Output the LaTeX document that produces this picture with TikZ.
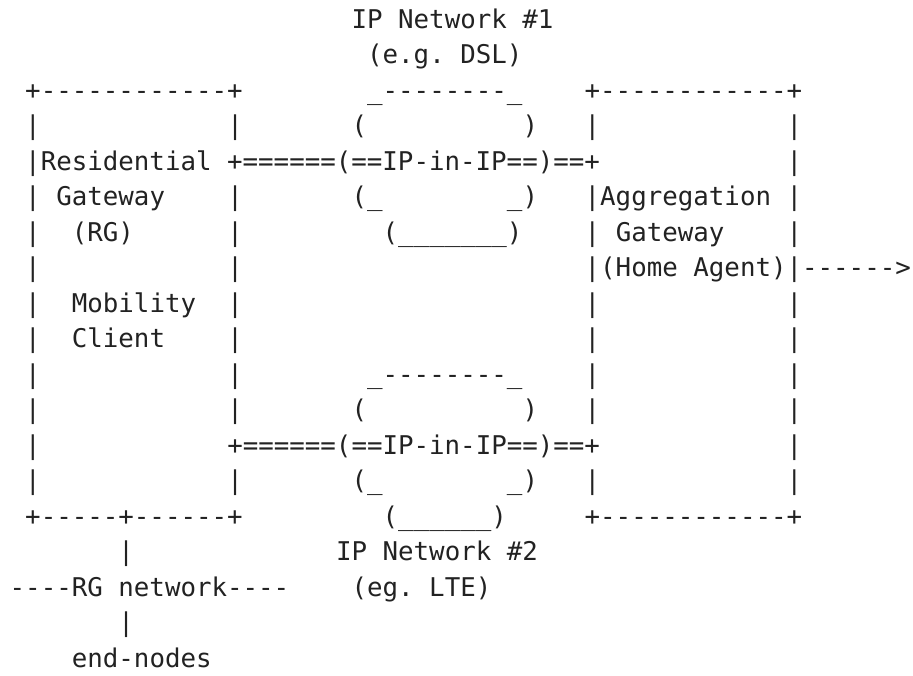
\documentclass[tikz,border=0pt]{standalone}
\usepackage{fontspec}
\setmonofont{DejaVu Sans Mono}
\definecolor{ink}{HTML}{222222}
\tikzset{
  asc/.style={anchor=base west, inner sep=0pt, outer sep=0pt, text=ink,
    font=\ttfamily\fontsize{25.8pt}{30pt}\selectfont\frenchspacing}
}
% column/row placement of one ASCII segment
\newcommand\seg[4]{\node[asc] (#1) at ({9.7+#2*15.54},{28+(#3-1)*35.5}) {#4};}
\begin{document}
\begin{tikzpicture}[x=1pt,y=-1pt]
\useasboundingbox (0,0) rectangle (913,675);
% row 1-2
\seg{n1title}{22}{1}{IP Network \#1}
\seg{n1sub}{23}{2}{(e.g. DSL)}
% row 3
\seg{rgtop}{1}{3}{+------------+}
\seg{c1top}{23}{3}{\_--------\_}
\seg{agtop}{37}{3}{+------------+}
% row 4
\seg{r4a}{1}{4}{|}
\seg{r4b}{14}{4}{|}
\seg{r4c}{22}{4}{(}
\seg{r4d}{33}{4}{)}
\seg{r4e}{37}{4}{|}
\seg{r4f}{50}{4}{|}
% row 5
\seg{tun1}{1}{5}{|Residential +======(==IP-in-IP==)==+}
\seg{r5f}{50}{5}{|}
% row 6
\seg{r6a}{1}{6}{|}
\seg{rggw}{3}{6}{Gateway}
\seg{r6b}{14}{6}{|}
\seg{r6c}{22}{6}{(\_}
\seg{r6d}{32}{6}{\_)}
\seg{agagg}{37}{6}{|Aggregation}
\seg{r6f}{50}{6}{|}
% row 7
\seg{r7a}{1}{7}{|}
\seg{rgrg}{4}{7}{(RG)}
\seg{r7b}{14}{7}{|}
\seg{c1bot}{24}{7}{(\_\_\_\_\_\_\_)}
\seg{r7e}{37}{7}{|}
\seg{aggw}{39}{7}{Gateway}
\seg{r7f}{50}{7}{|}
% row 8
\seg{r8a}{1}{8}{|}
\seg{r8b}{14}{8}{|}
\seg{agha}{37}{8}{|(Home Agent)|------>}
% row 9
\seg{r9a}{1}{9}{|}
\seg{rgmob}{4}{9}{Mobility}
\seg{r9b}{14}{9}{|}
\seg{r9e}{37}{9}{|}
\seg{r9f}{50}{9}{|}
% row 10
\seg{r10a}{1}{10}{|}
\seg{rgcli}{4}{10}{Client}
\seg{r10b}{14}{10}{|}
\seg{r10e}{37}{10}{|}
\seg{r10f}{50}{10}{|}
% row 11
\seg{r11a}{1}{11}{|}
\seg{r11b}{14}{11}{|}
\seg{c2top}{23}{11}{\_--------\_}
\seg{r11e}{37}{11}{|}
\seg{r11f}{50}{11}{|}
% row 12
\seg{r12a}{1}{12}{|}
\seg{r12b}{14}{12}{|}
\seg{r12c}{22}{12}{(}
\seg{r12d}{33}{12}{)}
\seg{r12e}{37}{12}{|}
\seg{r12f}{50}{12}{|}
% row 13
\seg{r13a}{1}{13}{|}
\seg{tun2}{14}{13}{+======(==IP-in-IP==)==+}
\seg{r13f}{50}{13}{|}
% row 14
\seg{r14a}{1}{14}{|}
\seg{r14b}{14}{14}{|}
\seg{r14c}{22}{14}{(\_}
\seg{r14d}{32}{14}{\_)}
\seg{r14e}{37}{14}{|}
\seg{r14f}{50}{14}{|}
% row 15
\seg{rgbot}{1}{15}{+-----+------+}
\seg{c2bot}{24}{15}{(\_\_\_\_\_\_)}
\seg{agbot}{37}{15}{+------------+}
% row 16-19
\seg{r16a}{7}{16}{|}
\seg{n2title}{21}{16}{IP Network \#2}
\seg{rgnet}{0}{17}{----RG network----}
\seg{n2sub}{22}{17}{(eg. LTE)}
\seg{r18a}{7}{18}{|}
\seg{endn}{4}{19}{end-nodes}
\end{tikzpicture}
\end{document}
